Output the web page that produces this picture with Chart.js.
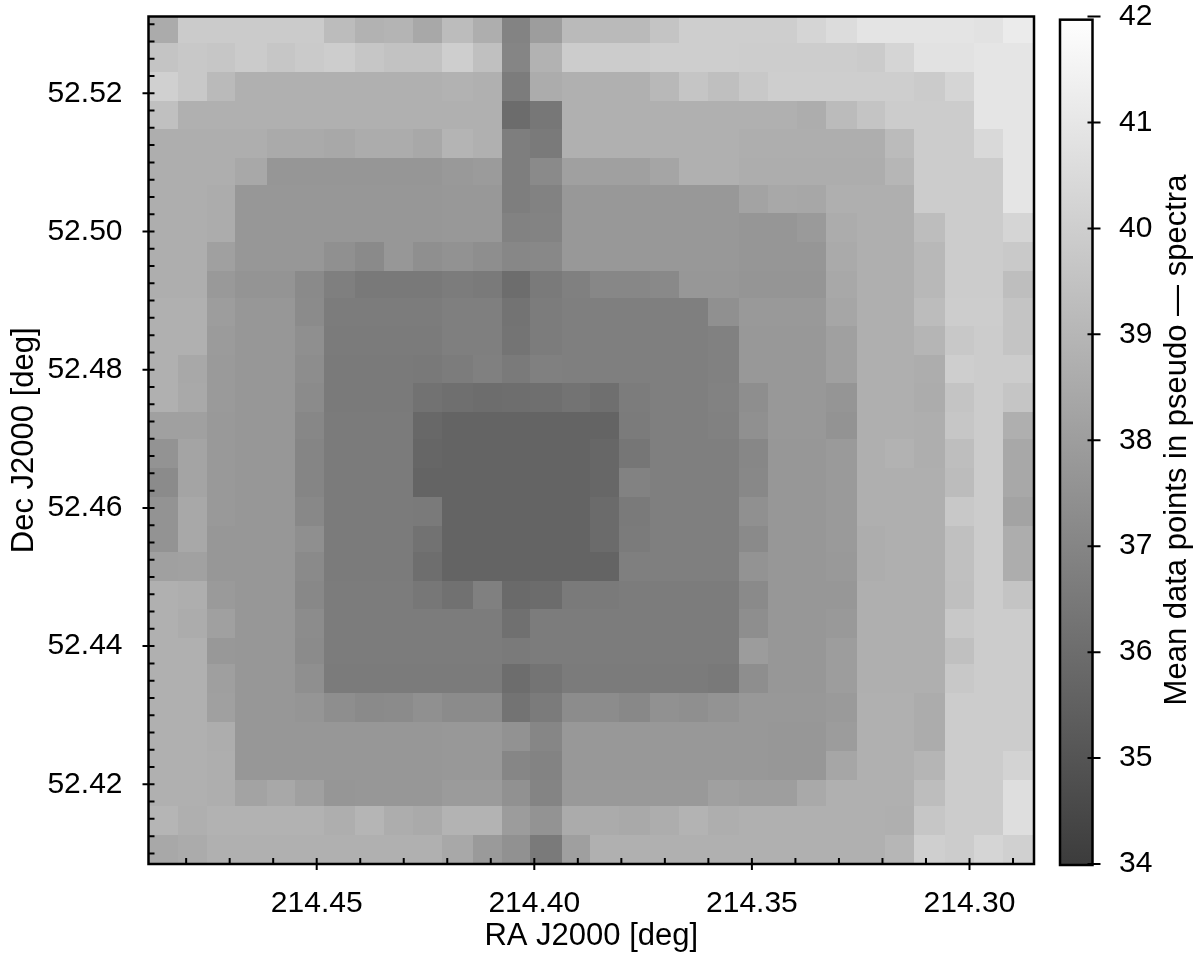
<!DOCTYPE html>
<html>
<head>
<meta charset="utf-8">
<title>Mean data points map</title>
<script src="https://cdn.jsdelivr.net/npm/chart.js@4"></script>
<style>
html, body { margin: 0; background: #fff; }
canvas { display: block; }
</style>
</head>
<body>
<canvas id="map" width="1200" height="960"></canvas>
<script>
// cell edges, in degrees
var raEdges = [214.48865, 214.48194, 214.47528, 214.46870, 214.46149, 214.45499, 214.44832, 214.44120, 214.43454, 214.42787, 214.42128, 214.41415, 214.40749, 214.40092, 214.39370, 214.38713, 214.38054, 214.37341, 214.36675, 214.36009, 214.35296, 214.34630, 214.33971, 214.33304, 214.32592, 214.31942, 214.31275, 214.30563, 214.29896, 214.29230, 214.28518];
var decEdges = [52.53111, 52.52724, 52.52308, 52.51893, 52.51479, 52.51059, 52.50673, 52.50263, 52.49844, 52.49428, 52.49038, 52.48632, 52.48213, 52.47803, 52.47384, 52.46997, 52.46582, 52.46162, 52.45742, 52.45366, 52.44946, 52.44533, 52.44113, 52.43737, 52.43317, 52.42897, 52.42477, 52.42062, 52.41686, 52.41266, 52.40847];

var raTicks = [214.45, 214.40, 214.35, 214.30];
var decTicks = [52.52, 52.50, 52.48, 52.46, 52.44, 52.42];
var barTicks = [34, 35, 36, 37, 38, 39, 40, 41, 42];

// mean data points per cell, top row first, left column first
var meanPoints = [
  [38.55,39.86,39.86,39.86,39.86,39.86,39.25,38.84,38.92,38.43,39.25,38.67,36.91,37.98,39.16,39.16,39.16,39.57,39.98,39.98,39.98,39.98,40.27,40.56,40.89,40.89,40.89,40.89,40.80,41.17],
  [39.57,39.74,39.66,39.86,39.66,39.82,39.94,39.66,39.49,39.49,39.98,39.41,36.99,38.84,39.90,39.90,39.90,39.98,39.98,39.98,39.94,39.94,39.94,39.94,39.86,40.27,40.80,40.80,40.93,40.93],
  [40.07,39.74,39.16,38.75,38.75,38.75,38.75,38.75,38.75,38.75,38.84,38.75,36.62,38.59,38.75,38.75,38.75,39.08,39.61,39.37,39.74,39.98,39.98,39.98,39.98,39.98,39.86,40.27,40.93,40.93],
  [39.41,38.75,38.75,38.75,38.75,38.75,38.75,38.75,38.75,38.75,38.75,38.75,35.97,36.42,38.75,38.75,38.75,38.75,38.75,38.75,38.75,38.75,38.63,39.20,39.57,39.90,39.90,39.90,40.93,40.93],
  [38.67,38.67,38.67,38.67,38.51,38.51,38.43,38.59,38.59,38.43,38.92,38.75,36.70,36.54,38.75,38.75,38.75,38.75,38.75,38.75,38.67,38.67,38.67,38.67,38.67,39.20,39.90,39.90,40.43,40.93],
  [38.67,38.67,38.67,38.43,37.69,37.69,37.69,37.69,37.69,37.69,37.81,37.89,36.70,37.20,38.10,38.10,38.10,38.30,38.75,38.75,38.63,38.63,38.63,38.63,38.63,39.00,39.90,39.90,39.90,40.93],
  [38.67,38.67,38.59,37.73,37.73,37.73,37.73,37.73,37.73,37.73,37.77,37.77,36.70,36.87,37.77,37.77,37.77,37.77,37.77,37.77,38.22,38.43,38.39,38.71,38.71,38.71,39.90,39.90,39.90,40.93],
  [38.67,38.67,38.59,37.73,37.73,37.73,37.73,37.73,37.73,37.73,37.77,37.77,36.87,36.91,37.77,37.77,37.77,37.77,37.77,37.77,37.69,37.69,37.85,38.59,38.71,38.71,39.29,39.90,39.90,40.27],
  [38.67,38.67,38.10,37.73,37.73,37.73,37.44,37.20,37.73,37.40,37.52,37.36,37.07,37.11,37.77,37.77,37.77,37.77,37.77,37.77,37.69,37.69,37.69,38.51,38.71,38.71,39.08,39.90,39.90,39.78],
  [38.67,38.67,37.81,37.61,37.61,37.20,36.75,36.50,36.50,36.50,36.62,36.54,36.01,36.54,36.79,37.07,37.07,37.16,37.73,37.73,37.65,37.65,37.65,38.43,38.71,38.71,39.08,39.90,39.90,39.33],
  [38.75,38.75,37.98,37.73,37.73,37.24,36.62,36.62,36.62,36.62,36.75,36.75,36.25,36.62,36.75,36.75,36.75,36.75,36.75,37.44,37.81,37.81,37.81,38.34,38.71,38.71,39.25,39.94,39.94,39.57],
  [38.75,38.75,37.89,37.73,37.73,37.40,36.58,36.58,36.58,36.58,36.75,36.75,36.30,36.62,36.75,36.75,36.75,36.75,36.75,36.83,37.77,37.77,37.77,38.10,38.71,38.71,38.96,39.74,39.90,39.57],
  [38.75,38.43,37.85,37.73,37.73,37.32,36.54,36.54,36.54,36.50,36.62,36.79,36.54,36.79,36.75,36.75,36.75,36.75,36.75,36.83,37.77,37.77,37.77,38.10,38.71,38.71,38.63,39.98,39.90,39.90],
  [38.75,38.47,37.85,37.73,37.73,37.24,36.54,36.54,36.54,36.21,36.09,36.01,36.05,36.09,36.25,36.09,36.62,36.75,36.75,36.87,37.36,37.77,37.77,37.65,38.71,38.71,38.59,39.57,39.90,39.61],
  [38.10,38.10,37.81,37.73,37.73,37.07,36.58,36.58,36.58,35.80,35.64,35.64,35.64,35.64,35.64,35.64,36.58,36.75,36.75,36.83,37.44,37.77,37.77,37.57,38.71,38.71,38.67,39.66,39.90,38.71],
  [37.57,38.26,37.81,37.73,37.73,36.99,36.58,36.58,36.58,35.72,35.64,35.64,35.64,35.64,35.64,35.76,36.38,36.75,36.75,36.75,37.07,37.73,37.73,37.85,38.71,38.84,38.67,39.33,39.90,38.43],
  [37.24,38.26,37.81,37.73,37.73,36.99,36.58,36.58,36.58,35.64,35.64,35.64,35.64,35.64,35.64,35.76,36.87,36.75,36.75,36.75,37.11,37.73,37.73,37.85,38.71,38.71,38.71,39.25,39.90,38.43],
  [37.57,38.43,37.81,37.73,37.73,37.11,36.58,36.58,36.58,36.54,35.64,35.64,35.64,35.64,35.64,35.93,36.54,36.75,36.75,36.75,37.44,37.73,37.73,37.85,38.71,38.71,38.71,39.74,39.90,38.22],
  [37.57,38.43,37.73,37.73,37.73,37.40,36.58,36.58,36.58,36.21,35.64,35.64,35.64,35.64,35.64,35.93,36.58,36.75,36.75,36.75,37.20,37.73,37.73,37.85,38.63,38.71,38.71,39.41,39.90,38.63],
  [38.10,38.14,37.73,37.73,37.73,37.20,36.58,36.58,36.58,36.05,35.64,35.64,35.64,35.64,35.64,35.64,36.75,36.75,36.75,36.75,37.57,37.73,37.73,37.81,38.63,38.71,38.71,39.41,39.90,38.63],
  [38.75,38.67,37.85,37.73,37.73,37.11,36.62,36.62,36.62,36.42,36.17,36.79,35.89,35.97,36.54,36.54,36.62,36.62,36.62,36.62,37.20,37.73,37.73,37.73,38.71,38.71,38.71,39.37,39.90,39.57],
  [38.75,38.59,38.10,37.73,37.73,37.28,36.62,36.62,36.62,36.62,36.62,36.62,36.13,36.62,36.62,36.62,36.62,36.62,36.62,36.62,37.36,37.73,37.73,37.81,38.71,38.71,38.71,39.74,39.90,39.90],
  [38.75,38.75,37.77,37.73,37.73,37.24,36.62,36.62,36.62,36.62,36.62,36.62,36.54,36.62,36.62,36.62,36.62,36.62,36.62,36.62,37.93,37.73,37.73,37.98,38.71,38.71,38.71,39.41,39.90,39.90],
  [38.75,38.75,38.06,37.73,37.73,37.40,36.58,36.58,36.58,36.58,36.58,36.58,36.01,36.30,36.58,36.58,36.58,36.58,36.58,36.50,37.36,37.73,37.73,37.98,38.71,38.71,38.71,39.74,39.90,39.90],
  [38.75,38.75,38.10,37.73,37.73,37.65,37.36,37.20,37.24,37.44,37.24,37.24,36.25,36.58,37.28,37.28,37.11,37.48,37.40,37.57,37.77,37.77,37.77,37.85,38.75,38.75,38.59,39.90,39.90,39.90],
  [38.75,38.75,38.63,37.73,37.73,37.73,37.73,37.73,37.73,37.73,37.77,37.77,37.52,37.03,37.77,37.77,37.77,37.77,37.77,37.77,37.77,37.73,37.73,37.93,38.75,38.75,38.59,39.90,39.90,39.90],
  [38.75,38.75,38.67,37.73,37.73,37.73,37.73,37.73,37.73,37.73,37.77,37.77,37.03,36.91,37.77,37.77,37.77,37.77,37.77,37.77,37.77,37.73,37.73,38.34,38.75,38.75,38.96,39.90,39.90,40.19],
  [38.75,38.75,38.67,38.22,38.43,38.10,37.69,37.73,37.73,37.73,37.89,37.89,37.48,36.95,37.81,37.81,37.81,37.81,37.81,38.10,38.02,38.02,38.47,38.75,38.75,38.75,39.29,39.90,39.90,40.64],
  [38.96,38.71,38.84,38.84,38.84,38.84,38.67,38.96,38.63,38.51,38.88,38.88,37.93,37.57,38.55,38.55,38.47,38.63,38.88,38.67,38.75,38.75,38.75,38.75,38.75,38.71,39.66,39.90,39.90,40.64],
  [38.43,38.55,38.75,38.75,38.75,38.75,38.75,38.75,38.75,38.75,38.43,37.85,37.48,36.54,38.06,38.75,38.75,38.75,38.75,38.75,38.75,38.75,38.75,38.75,38.75,39.00,40.02,39.90,40.27,40.07]
];

var tickFont = { family: '"Liberation Sans"', size: 30 };
var titleFont = { family: '"Liberation Sans"', size: 31 };

// 34 is dark gray, 42 is white
function grayFor(v) {
  var g = Math.round(60 + (v - 34) * 24.4);
  return 'rgb(' + g + ',' + g + ',' + g + ')';
}

var cells = [];
meanPoints.forEach(function (row, r) {
  row.forEach(function (v, c) {
    cells.push({
      x: (raEdges[c] + raEdges[c + 1]) / 2,
      y: (decEdges[r] + decEdges[r + 1]) / 2,
      v: v, r: r, c: c
    });
  });
});

// draws the cells under the axes
var cellPlugin = {
  id: 'cells',
  beforeDatasetsDraw: function (chart) {
    var ctx = chart.ctx, xs = chart.scales.x, ys = chart.scales.y;
    chart.data.datasets[0].data.forEach(function (p) {
      var x0 = Math.round(xs.getPixelForValue(raEdges[p.c]));
      var x1 = Math.round(xs.getPixelForValue(raEdges[p.c + 1]));
      var y0 = Math.round(ys.getPixelForValue(decEdges[p.r]));
      var y1 = Math.round(ys.getPixelForValue(decEdges[p.r + 1]));
      ctx.fillStyle = grayFor(p.v);
      ctx.fillRect(x0, y0, x1 - x0, y1 - y0);
    });
  }
};

// frame, inward ticks, colour bar and its rotated title
var framePlugin = {
  id: 'frame',
  afterDraw: function (chart) {
    var ctx = chart.ctx, a = chart.chartArea;
    var xs = chart.scales.x, ys = chart.scales.y, cs = chart.scales.c;
    var v, p;

    ctx.save();
    ctx.strokeStyle = '#000';
    ctx.lineWidth = 2;
    ctx.beginPath();
    for (v = 214.48; v > 214.285; v -= 0.01) {
      p = xs.getPixelForValue(v);
      ctx.moveTo(p, a.bottom - 6);
      ctx.lineTo(p, a.bottom);
    }
    for (v = 52.41; v < 52.531; v += 0.0025) {
      p = ys.getPixelForValue(v);
      ctx.moveTo(a.left, p);
      ctx.lineTo(a.left + 6, p);
    }
    raTicks.forEach(function (t) {
      var px = xs.getPixelForValue(t);
      ctx.moveTo(px, a.bottom - 6);
      ctx.lineTo(px, a.bottom + 6);
    });
    decTicks.forEach(function (t) {
      var py = ys.getPixelForValue(t);
      ctx.moveTo(a.left - 6, py);
      ctx.lineTo(a.left + 6, py);
    });
    ctx.stroke();

    ctx.lineWidth = 2.5;
    ctx.strokeRect(a.left, a.top, a.right - a.left, a.bottom - a.top);

    // colour bar
    var barLeft = 1060, barRight = 1092.5;
    var barTop = cs.getPixelForValue(41.97), barBottom = cs.getPixelForValue(34) + 1;
    var grad = ctx.createLinearGradient(0, cs.getPixelForValue(34), 0, cs.getPixelForValue(42));
    grad.addColorStop(0, grayFor(34));
    grad.addColorStop(1, grayFor(42));
    ctx.fillStyle = grad;
    ctx.fillRect(barLeft, barTop, barRight - barLeft, barBottom - barTop);
    ctx.strokeRect(barLeft, barTop, barRight - barLeft, barBottom - barTop);

    ctx.lineWidth = 2;
    ctx.beginPath();
    barTicks.forEach(function (t) {
      var py = cs.getPixelForValue(t);
      ctx.moveTo(barRight - 5, py);
      ctx.lineTo(barRight + 8, py);
    });
    ctx.stroke();

    ctx.fillStyle = '#000';
    ctx.font = titleFont.size + 'px ' + titleFont.family;
    ctx.textAlign = 'center';
    ctx.textBaseline = 'middle';
    ctx.translate(1177, 440);
    ctx.rotate(-Math.PI / 2);
    ctx.fillText('Mean data points in pseudo \u2014 spectra', 0, 0);
    ctx.restore();
  }
};

function setTicks(list) {
  return function (axis) {
    axis.ticks = list.map(function (v) { return { value: v }; });
  };
}

// fixed axis boxes, the tick padding must not push the plot area around
function fixBox(prop, size) {
  return function (axis) {
    axis[prop] = size;
    axis.paddingLeft = axis.paddingRight = axis.paddingTop = axis.paddingBottom = 0;
  };
}

new Chart(document.getElementById('map').getContext('2d'), {
  type: 'scatter',
  data: {
    datasets: [{
      label: 'Mean data points',
      data: cells,
      pointRadius: 0,
      pointHoverRadius: 0
    }]
  },
  options: {
    responsive: false,
    animation: false,
    layout: { padding: { top: 16.5 } },
    plugins: { legend: { display: false }, tooltip: { enabled: false } },
    scales: {
      x: {
        type: 'linear',
        reverse: true,
        min: raEdges[30],
        max: raEdges[0],
        afterBuildTicks: setTicks(raTicks),
        afterFit: fixBox('height', 96),
        grid: { display: false },
        border: { display: false },
        ticks: {
          color: '#000',
          font: tickFont,
          padding: 14,
          maxRotation: 0,
          autoSkip: false,
          callback: function (v) { return v.toFixed(2); }
        },
        title: { display: true, text: 'RA J2000 [deg]', color: '#000', font: titleFont, padding: { top: 0, bottom: 5 } }
      },
      y: {
        type: 'linear',
        min: decEdges[30],
        max: decEdges[0],
        afterBuildTicks: setTicks(decTicks),
        afterFit: fixBox('width', 148.5),
        grid: { display: false },
        border: { display: false },
        ticks: {
          color: '#000',
          font: tickFont,
          padding: 18,
          autoSkip: false,
          callback: function (v) { return v.toFixed(2); }
        },
        title: { display: true, text: 'Dec J2000 [deg]', color: '#000', font: titleFont, padding: { top: 6, bottom: 0 } }
      },
      c: {
        type: 'linear',
        position: 'right',
        min: 34,
        max: 42,
        afterBuildTicks: setTicks(barTicks),
        afterFit: fixBox('width', 166),
        grid: { display: false },
        border: { display: false },
        ticks: { color: '#000', font: tickFont, padding: 77, autoSkip: false }
      }
    }
  },
  plugins: [cellPlugin, framePlugin]
});
</script>
</body>
</html>
